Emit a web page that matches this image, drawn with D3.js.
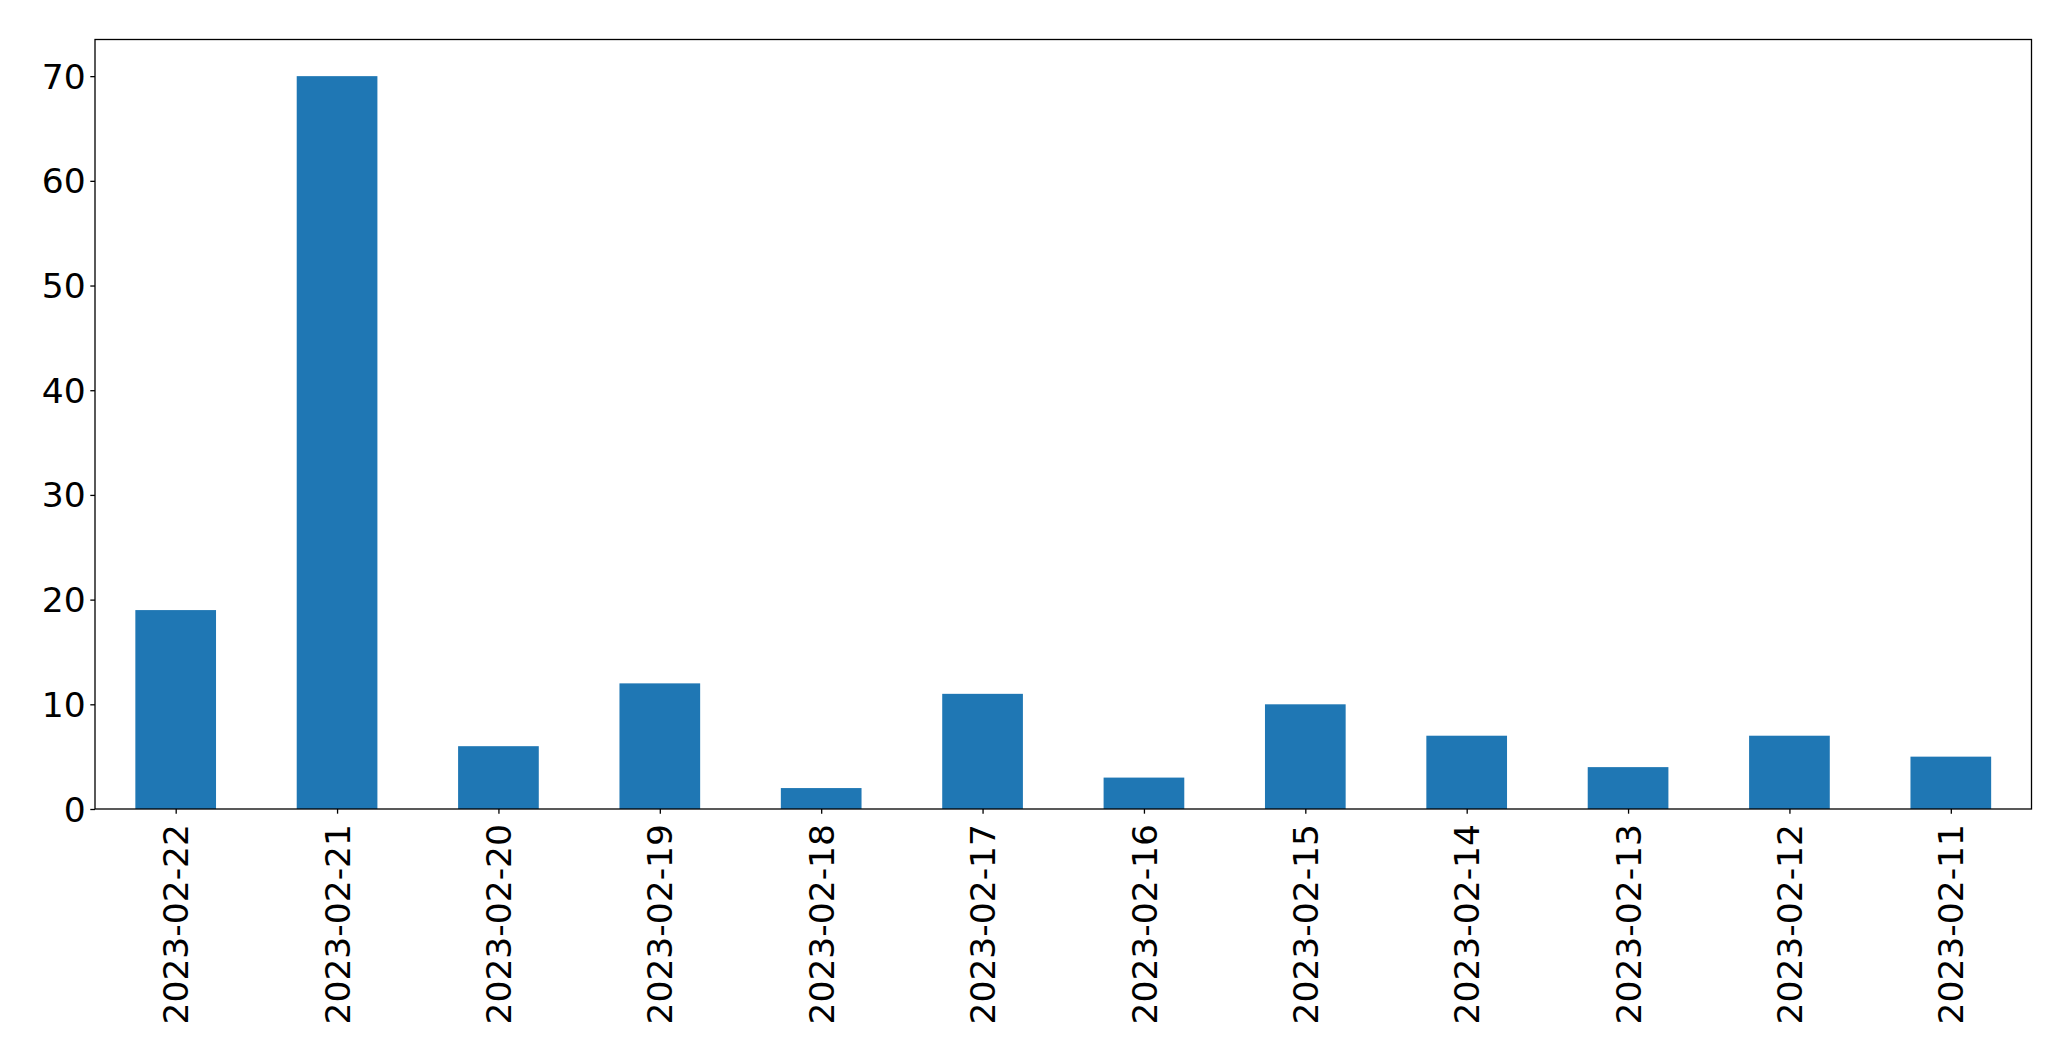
<!DOCTYPE html>
<html>
<head>
<meta charset="utf-8">
<script src="https://cdn.jsdelivr.net/npm/d3@7"></script>
<style>
  html, body { margin: 0; padding: 0; background: #fff; }
  svg { display: block; }
  text { font-family: "DejaVu Sans", sans-serif; fill: #000; }
</style>
</head>
<body>
<svg id="chart" width="2071" height="1061"></svg>
<script>
const categories = ["2023-02-22","2023-02-21","2023-02-20","2023-02-19","2023-02-18","2023-02-17","2023-02-16","2023-02-15","2023-02-14","2023-02-13","2023-02-12","2023-02-11"];
const values = [19, 70, 6, 12, 2, 11, 3, 10, 7, 4, 7, 5];
const yTicks = [0, 10, 20, 30, 40, 50, 60, 70];

const W = 2071, H = 1061;
const margin = {left: 95, right: 2031.5, top: 39.5, bottom: 809};
const fontSize = 34.5;
const tickLen = 4.7;

const svg = d3.select("#chart");

const x = d3.scaleLinear().domain([-0.5, categories.length - 0.5]).range([margin.left, margin.right]);
const y = d3.scaleLinear().domain([0, 73.5]).range([margin.bottom, margin.top]);
const bw = x(0.25) - x(-0.25);

svg.append("g").selectAll("rect").data(values).join("rect")
  .attr("x", (d, i) => x(i) - bw / 2)
  .attr("y", d => y(d))
  .attr("width", bw)
  .attr("height", d => y(0) - y(d))
  .attr("fill", "#1f77b4");

// frame
svg.append("rect")
  .attr("x", margin.left).attr("y", margin.top)
  .attr("width", margin.right - margin.left)
  .attr("height", margin.bottom - margin.top)
  .attr("fill", "none").attr("stroke", "#000").attr("stroke-width", 1.3);

// y axis
const yAxis = d3.axisLeft(y).tickValues(yTicks).tickSize(tickLen).tickPadding(4.7).tickFormat(d3.format("d"));
const gy = svg.append("g").attr("transform", `translate(${margin.left},0)`).call(yAxis);
gy.select(".domain").remove();
gy.selectAll(".tick line").attr("stroke", "#000").attr("stroke-width", 1.3);
gy.selectAll(".tick text").attr("font-size", fontSize).attr("font-family", "DejaVu Sans").attr("dy", "0.35em");

// x axis
const xAxis = d3.axisBottom(x).tickValues(d3.range(categories.length)).tickSize(tickLen).tickFormat(i => categories[i]);
const gx = svg.append("g").attr("transform", `translate(0,${margin.bottom})`).call(xAxis);
gx.select(".domain").remove();
gx.selectAll(".tick line").attr("stroke", "#000").attr("stroke-width", 1.3);
gx.selectAll(".tick text")
  .attr("font-size", fontSize).attr("font-family", "DejaVu Sans")
  .attr("text-anchor", "end")
  .attr("transform", "translate(0,15) rotate(-90)")
  .attr("x", 0).attr("y", 0).attr("dy", "0.35em");
</script>
</body>
</html>
